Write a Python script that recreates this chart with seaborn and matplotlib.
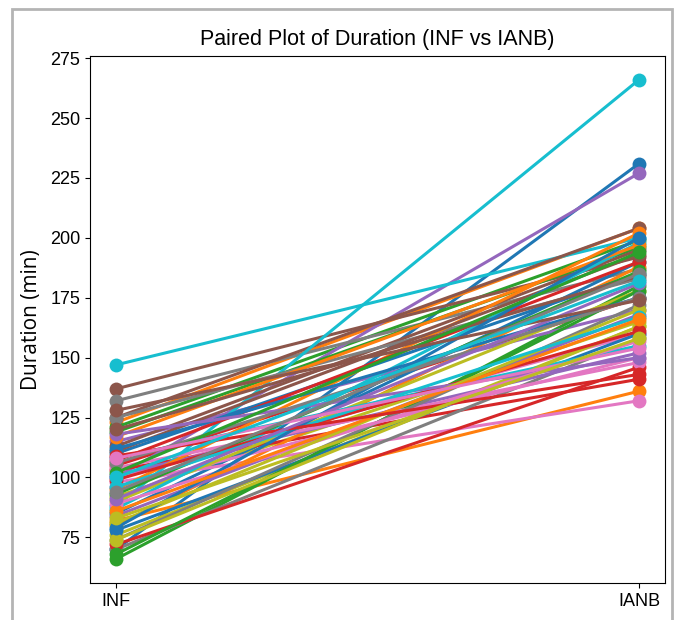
import matplotlib
matplotlib.use("Agg")
import matplotlib.pyplot as plt
import numpy as np
import pandas as pd
import seaborn as sns

conditions = ["INF", "IANB"]

# paired durations (min), one entry per subject
inf_duration = [
    70, 123, 121, 105, 100, 137, 100, 132, 92, 147,
    85, 82, 66, 103, 115, 125, 98, 70, 76, 88,
    78, 80, 119, 72, 101, 113, 96, 125, 90, 108,
    110, 95, 68, 107, 84, 111, 104, 74, 74, 87,
    112, 117, 93, 99, 118, 120, 89, 106, 81, 96,
    79, 86, 102, 109, 91, 128, 108, 94, 83, 100,
]
ianb_duration = [
    231, 204, 199, 175, 227, 192, 160, 187, 165, 200,
    190, 136, 180, 141, 170, 204, 132, 158, 163, 266,
    160, 188, 196, 146, 152, 195, 150, 183, 178, 155,
    185, 202, 178, 190, 168, 193, 148, 172, 163, 198,
    175, 197, 186, 161, 150, 184, 157, 175, 170, 167,
    200, 166, 194, 143, 181, 174, 154, 185, 158, 182,
]

subjects = np.arange(len(inf_duration))
df = pd.DataFrame({
    "subject": np.concatenate([subjects, subjects]),
    "condition": [conditions[0]] * len(subjects) + [conditions[1]] * len(subjects),
    "duration": inf_duration + ianb_duration,
})

fig = plt.figure(figsize=(6.78, 6.2), dpi=100)
ax = fig.add_axes([0.133, 0.060, 0.848, 0.850])

sns.lineplot(data=df, x="condition", y="duration", hue="subject",
             palette=sns.color_palette("tab10", len(subjects)),
             marker="o", markersize=10, markeredgewidth=0, linewidth=2.2,
             sort=False, legend=False, ax=ax)

ax.set_title("Paired Plot of Duration (INF vs IANB)", fontsize=15.5,
             family="Liberation Sans", pad=8)
ax.set_xlabel("")
ax.set_ylabel("Duration (min)", fontsize=15, family="Open Sans", labelpad=6)
ax.set_yticks([75, 100, 125, 150, 175, 200, 225, 250, 275])
for lab in ax.get_xticklabels() + ax.get_yticklabels():
    lab.set_family("Liberation Sans")
    lab.set_fontsize(13)

# screenshot frame
frame = plt.Rectangle((0.018, -0.01), 0.973, 0.995, transform=fig.transFigure,
                      fill=False, edgecolor="#b4b4b4", linewidth=2)
fig.patches.append(frame)

fig.savefig("out.png", dpi=100)
